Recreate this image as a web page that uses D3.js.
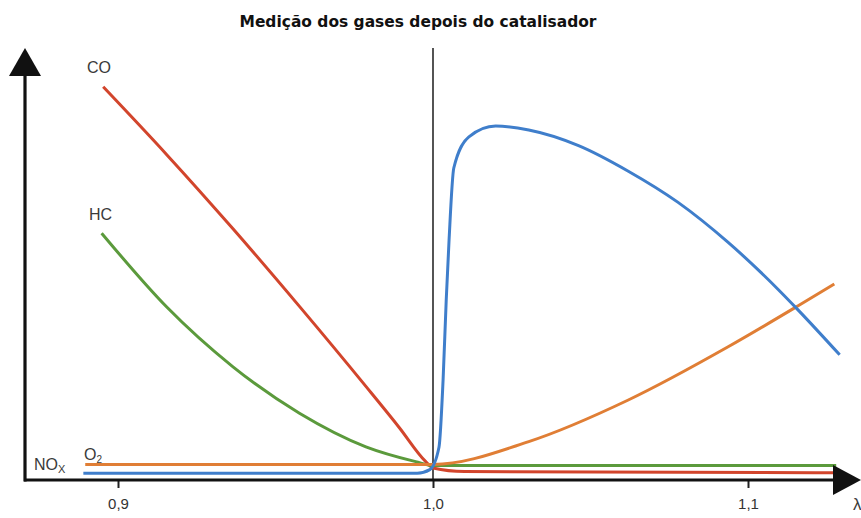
<!DOCTYPE html>
<html lang="en">
<head>
    <meta charset="utf-8">
    <style type="text/css">
        body { margin: 0; background: #fff; }
        .axis text {
            font-family: "Liberation Sans", Arial, sans-serif;
            font-size: 15px;
            fill: #333;
        }
        .lbl {
            font-family: "Liberation Sans", Arial, sans-serif;
            font-size: 16px;
            fill: #3a3a3a;
        }
    </style>
    <script src="https://cdn.jsdelivr.net/npm/d3@7"></script>
</head>
<body>
<script>
    let w = 861;
    let h = 518;

    // lambda (x) and relative concentration (y)
    const lambdaCO  = [0.8953, 0.9154, 0.9365, 0.9576, 0.9787, 0.9892, 0.9977, 1.0, 1.01, 1.128];
    const valuesCO  = [98.3, 81.4, 62.8, 43.4, 23.4, 13.2, 4.6, 3.0, 2.1, 1.8];

    const lambdaHC  = [0.8948, 0.9154, 0.9365, 0.9576, 0.9787, 0.9945, 1.0, 1.128];
    const valuesHC  = [61.7, 43.3, 28.3, 16.7, 8.3, 4.6, 3.6, 3.6];

    const lambdaO2  = [0.8896, 1.0, 1.0304, 1.062, 1.0937, 1.1158, 1.1274];
    const valuesO2  = [3.9, 3.9, 9.6, 20.0, 33.3, 43.5, 49.0];

    const lambdaNOx = [0.889, 0.995, 0.999, 1.0019, 1.0032, 1.0042, 1.0051, 1.0066, 1.0114, 1.0199, 1.0304, 1.0462, 1.062, 1.0778, 1.0937, 1.1095, 1.1158, 1.1291];
    const valuesNOx = [1.7, 1.7, 2.6, 8.2, 25, 45, 60, 78, 85.8, 88.5, 87.5, 83.6, 77.2, 69.4, 59.4, 47.7, 42.6, 31.3];

    const tickValues = [0.9, 1.0, 1.1];
    const tickLabels = ["0,9", "1,0", "1,1"];

    const series = [
        { key: "CO",  lambda: lambdaCO,  values: valuesCO,  color: "#d2452c" },
        { key: "HC",  lambda: lambdaHC,  values: valuesHC,  color: "#5b9a3c" },
        { key: "O2",  lambda: lambdaO2,  values: valuesO2,  color: "#e07e35" },
        { key: "NOx", lambda: lambdaNOx, values: valuesNOx, color: "#3f7ecb" }
    ];

    let svg = d3.select("body")
        .append("svg")
        .attr("width", w)
        .attr("height", h)
        .style("display", "block");

    let xScale = d3.scaleLinear().domain([0.9, 1.1]).range([118, 748]);
    let yScale = d3.scaleLinear().domain([0, 100]).range([480, 80]);

    svg.append("text")
        .attr("x", 418)
        .attr("y", 27)
        .attr("text-anchor", "middle")
        .style("font-family", "'DejaVu Sans', sans-serif")
        .style("font-size", "15px")
        .style("font-weight", "bold")
        .style("fill", "#111")
        .attr("textLength", 357)
        .attr("lengthAdjust", "spacingAndGlyphs")
        .text("Medição dos gases depois do catalisador");

    // stoichiometric line at lambda = 1
    svg.append("line")
        .attr("x1", xScale(1)).attr("x2", xScale(1))
        .attr("y1", 48).attr("y2", yScale(0))
        .attr("stroke", "#2a2a2a")
        .attr("stroke-width", 1.6);

    let line = d3.line()
        .x(d => xScale(d[0]))
        .y(d => yScale(d[1]))
        .curve(d3.curveMonotoneX);

    svg.selectAll("path.series")
        .data(series)
        .join("path")
        .attr("class", "series")
        .attr("fill", "none")
        .attr("stroke", d => d.color)
        .attr("stroke-width", 3)
        .attr("stroke-linejoin", "round")
        .attr("d", d => line(d.lambda.map((l, i) => [l, d.values[i]])));

    // x axis with ticks
    let xAxis = svg.append("g")
        .attr("class", "axis")
        .attr("transform", `translate(0,${yScale(0)})`)
        .call(d3.axisBottom(xScale)
            .tickValues(tickValues)
            .tickFormat((d, i) => tickLabels[i])
            .tickSize(8)
            .tickPadding(10));
    xAxis.select(".domain").remove();
    xAxis.selectAll(".tick line").attr("stroke", "#222").attr("stroke-width", 2);

    // axis lines and arrows
    svg.append("line")
        .attr("x1", 24).attr("x2", 836)
        .attr("y1", yScale(0)).attr("y2", yScale(0))
        .attr("stroke", "#111").attr("stroke-width", 3.2);
    svg.append("line")
        .attr("x1", 25).attr("x2", 25)
        .attr("y1", 70).attr("y2", yScale(0) + 1.5)
        .attr("stroke", "#111").attr("stroke-width", 3.2);
    svg.append("path")
        .attr("d", "M25,48 L9,76 L41,76 Z")
        .attr("fill", "#111");
    svg.append("path")
        .attr("d", `M833,${yScale(0) - 15} L861,${yScale(0)} L833,${yScale(0) + 15} Z`)
        .attr("fill", "#111");

    svg.append("text")
        .attr("class", "lbl")
        .attr("x", 853).attr("y", 510)
        .style("font-size", "17px")
        .text("λ");

    // curve labels
    svg.append("text").attr("class", "lbl").attr("x", 87).attr("y", 73).text("CO");
    svg.append("text").attr("class", "lbl").attr("x", 89).attr("y", 220).text("HC");

    let o2 = svg.append("text").attr("class", "lbl").attr("x", 84).attr("y", 460);
    o2.append("tspan").text("O");
    o2.append("tspan").attr("dy", 3).style("font-size", "10px").text("2");

    let nox = svg.append("text").attr("class", "lbl").attr("x", 34).attr("y", 470);
    nox.append("tspan").text("NO");
    nox.append("tspan").attr("dy", 3).style("font-size", "11px").text("X");
</script>
</body>
</html>
